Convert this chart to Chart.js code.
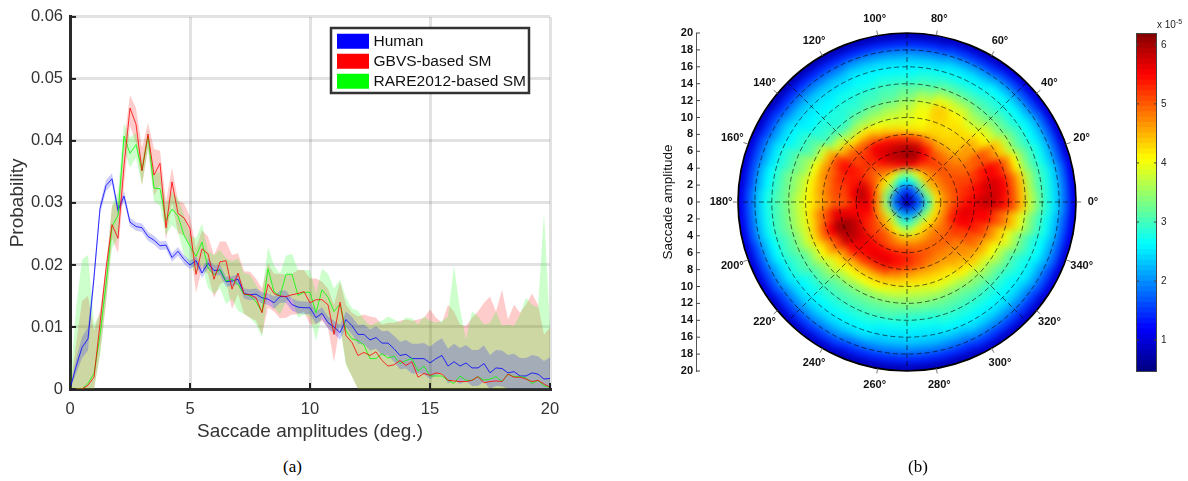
<!DOCTYPE html>
<html><head><meta charset="utf-8">
<script src="https://cdn.jsdelivr.net/npm/chart.js@4"></script>
<style>
html,body{margin:0;padding:0;background:#fff;width:1188px;height:481px;overflow:hidden}
canvas{position:absolute;display:block}
.t{position:absolute;color:#000;white-space:nowrap}
#heatClip{position:absolute;left:738px;top:33px;width:338px;height:338px;border-radius:50%;overflow:hidden;background:#0000b0}
#heat{left:-2px;top:-2px;filter:blur(3px)}
</style></head><body>
<canvas id="lines" width="600" height="443" style="left:0;top:0;width:600px;height:443px"></canvas>
<div id="heatClip"><canvas id="heat" width="342" height="342" style="width:342px;height:342px"></canvas></div>
<canvas id="polar" width="460" height="460" style="left:660px;top:0;width:460px;height:460px"></canvas>
<canvas id="bar" width="68" height="400" style="left:1120px;top:0;width:68px;height:400px"></canvas>
<div class="t" style="left:283px;top:457px;font:17px 'Liberation Serif'">(a)</div>
<div class="t" style="left:908px;top:457px;font:17px 'Liberation Serif'">(b)</div>
<div class="t" style="left:1157px;top:19px;font:10px 'Liberation Sans';color:#222">x 10<sup style="font-size:7px;vertical-align:4px;line-height:0">-5</sup></div>
<script>
const seriesNames=['Human','GBVS-based SM','RARE2012-based SM'];
const amplitudes=[0,.25,.5,.75,1,1.25,1.5,1.75,2,2.25,2.5,2.75,3,3.25,3.5,3.75,4,4.25,4.5,4.75,5,5.25,5.5,5.75,6,6.25,6.5,6.75,7,7.25,7.5,7.75,8,8.25,8.5,8.75,9,9.25,9.5,9.75,10,10.25,10.5,10.75,11,11.25,11.5,11.75,12,12.25,12.5,12.75,13,13.25,13.5,13.75,14,14.25,14.5,14.75,15,15.25,15.5,15.75,16,16.25,16.5,16.75,17,17.25,17.5,17.75,18,18.25,18.5,18.75,19,19.25,19.5,19.75,20];
const humanMean=[0,.0036,.0067,.0081,.018,.0291,.0328,.0339,.0288,.0311,.0269,.0262,.026,.0246,.024,.0231,.0232,.0212,.0222,.0209,.02,.0207,.0187,.0203,.0191,.0192,.0173,.0174,.0177,.0154,.0152,.0153,.0147,.0145,.0139,.0149,.0149,.0136,.0132,.0131,.0131,.0115,.0122,.0107,.01,.0091,.0112,.0102,.0088,.0088,.0079,.0083,.0074,.0074,.0065,.0054,.0056,.0049,.0049,.0049,.0042,.0049,.0054,.0037,.0044,.0037,.0042,.0034,.0034,.0041,.0026,.0034,.0033,.0026,.0028,.0021,.0021,.0026,.0024,.0016,.0017];
const humanUpper=[0,.0048,.0084,.01,.0192,.03,.0337,.0348,.0296,.0319,.0276,.0269,.0267,.0253,.0247,.0238,.0239,.0219,.0229,.0216,.0207,.0214,.0195,.0211,.0199,.02,.0181,.0182,.0185,.0162,.0161,.0162,.0156,.0154,.0149,.0159,.0159,.0146,.0142,.0141,.0141,.0125,.0132,.0117,.011,.0103,.0125,.0116,.0103,.0104,.0096,.0101,.0093,.0094,.0086,.0076,.0079,.0073,.0073,.0074,.0068,.0076,.0082,.0065,.0073,.0066,.0071,.0063,.0063,.007,.0055,.0063,.0062,.0055,.0057,.005,.005,.0055,.0053,.0045,.0051];
const humanLower=[0,.0024,.005,.0062,.0168,.0282,.0319,.033,.028,.0303,.0262,.0255,.0253,.0239,.0233,.0224,.0225,.0205,.0215,.0202,.0193,.02,.0179,.0195,.0183,.0184,.0165,.0166,.0169,.0146,.0143,.0144,.0138,.0136,.0129,.0139,.0139,.0126,.0122,.0121,.0121,.0105,.0112,.0097,.009,.0079,.0099,.0088,.0073,.0072,.0062,.0065,.0055,.0054,.0044,.0032,.0033,.0025,.0025,.0024,.0016,.0022,.0026,.0009,.0015,.0008,.0013,.0005,.0005,.0012,0,.0005,.0004,0,0,0,0,0,0,0,0];
const gbvsMean=[0,0,0,.0006,.0019,.0105,.0195,.0265,.0243,.036,.0453,.0427,.0352,.0411,.0345,.0364,.026,.0334,.0283,.0276,.0259,.0185,.0226,.0218,.0177,.0205,.0207,.0161,.0187,.0153,.0152,.0147,.0123,.0169,.0154,.015,.0149,.0152,.0154,.0157,.0139,.0144,.0144,.0136,.0088,.014,.0086,.0075,.0054,.0059,.0054,.006,.0046,.0037,.0039,.0046,.0038,.0044,.0019,.0025,.0022,.0026,.0024,.0014,.0013,.0012,.0012,.0014,.002,.001,.0012,.0013,.0012,.0024,.0019,.0019,.0016,.0012,.0014,.0008,.0003];
const gbvsUpper=[0,.0073,.0142,.015,.0094,.0126,.0195,.0296,.0302,.0397,.0474,.0453,.0389,.0429,.0387,.0384,.0302,.0357,.0304,.0299,.0278,.0227,.0256,.0246,.0216,.0238,.0238,.0216,.0219,.019,.0189,.0178,.0162,.0202,.0186,.0186,.0184,.0186,.0192,.0192,.0178,.0178,.0173,.0162,.0136,.0173,.0136,.0123,.0117,.012,.0117,.0115,.0104,.0107,.0107,.011,.0112,.011,.0112,.0115,.0128,.0115,.0107,.0136,.0125,.0104,.0101,.0115,.0125,.0139,.0149,.0125,.016,.0112,.0136,.0123,.0136,.0154,.0136,.0088,.0099];
const gbvsLower=[0,0,0,0,0,.0057,.0137,.0243,.0219,.0328,.0424,.0397,.0328,.0387,.0312,.0328,.024,.0302,.0251,.0248,.0232,.0155,.0195,.0185,.0147,.0169,.0174,.0129,.0153,.0121,.0115,.011,.0088,.0131,.0125,.0114,.0115,.012,.012,.0125,.0104,.0104,.011,.0099,.0043,.0104,.0041,.002,0,0,0,0,0,0,0,0,0,0,0,0,0,0,0,0,0,0,0,0,0,0,0,0,0,0,0,0,0,0,0,0,0];
const rareMean=[0,0,0,.0009,.0025,.0086,.0169,.0262,.028,.0408,.038,.0394,.0352,.0408,.0324,.0323,.0272,.029,.0279,.0248,.023,.0214,.0237,.0195,.0184,.0193,.0174,.0177,.0169,.0153,.015,.0141,.0124,.0194,.0157,.015,.0185,.0185,.0151,.0156,.0156,.0123,.016,.0148,.0125,.0137,.0094,.0081,.0078,.0071,.0049,.0049,.0057,.005,.0053,.0041,.0046,.0049,.0029,.0037,.0021,.0021,.0021,.0014,.0009,.0021,.0014,.0014,.002,.0014,.0016,.002,.0012,.0024,.002,.002,.0018,.0009,.0014,.0005,.0003];
const rareUpper=[0,.0131,.0209,.0216,.0105,.0121,.019,.0296,.0318,.0429,.0405,.0413,.0368,.0416,.0349,.0349,.0296,.0318,.0307,.028,.0248,.0243,.0267,.0222,.0216,.0224,.0211,.0206,.0211,.0187,.0184,.0168,.0152,.0229,.0199,.0186,.0215,.0218,.0192,.0192,.0192,.0154,.0194,.0186,.0162,.0176,.0147,.013,.0126,.0112,.0102,.0107,.011,.0117,.0112,.0107,.0115,.0114,.0104,.0117,.011,.0107,.011,.0117,.0199,.0128,.008,.0125,.0117,.0104,.0107,.0125,.0102,.0104,.0102,.012,.0147,.0136,.0131,.0284,.0099];
const rareLower=[0,0,0,0,0,.0052,.0142,.0227,.0243,.0387,.0357,.0373,.0328,.0389,.0302,.0296,.0248,.0264,.0254,.0216,.0201,.0185,.0201,.0163,.0153,.0163,.0137,.0145,.0126,.0121,.0115,.0104,.0084,.0157,.0131,.012,.0141,.0147,.0115,.012,.0117,.0078,.012,.0104,.0088,.0099,.0038,.002,0,0,0,0,0,0,0,0,0,0,0,0,0,0,0,0,0,0,0,0,0,0,0,0,0,0,0,0,0,0,0,0,0];
const probabilityTicks=[0,.01,.02,.03,.04,.05,.06];
const amplitudeTicks=[0,5,10,15,20];

/* density (x 1e-5): one row per amplitude ring 0-1 ... 19-20, one column per direction 0,10,...,350 deg */
const heatRows=[
[.8,.8,.8,.8,.8,.8,.8,.8,.8,.8,.8,.8,.8,.8,.8,.8,.8,.8,.8,.8,.8,.8,.8,.8,.8,.8,.8,.8,.8,.8,.8,.8,.8,.8,.8,.8],
[1.6,1.7,1.8,1.8,1.9,1.8,1.7,1.5,1.5,1.6,1.6,1.6,1.7,1.8,1.9,1.9,1.8,1.8,1.9,1.9,1.9,2,2,2.1,2.1,2.1,2.1,2.1,2.1,2,2,2,1.9,1.9,1.8,1.7],
[2.9,3.1,3.3,3.4,3.4,3.3,3.1,2.9,2.7,2.6,2.6,2.7,3,3.4,3.5,3.4,3.4,3.4,3.5,3.5,3.6,3.7,3.8,3.7,3.4,3.1,2.9,2.9,3,3.2,3.4,3.4,3.4,3.3,3.2,3],
[4.2,4.2,4.3,4.4,4.5,4.4,4.2,3.9,3.7,3.5,3.6,3.8,4.1,4.2,4.2,4.3,4.5,4.7,4.7,4.6,4.6,4.6,4.5,4.4,4.2,4,3.8,3.7,3.8,4,4.2,4.2,4.2,4.2,4.2,4.2],
[4.7,4.7,4.8,4.8,4.8,4.8,4.9,5.1,5.5,5.6,5.5,5.3,5,4.8,4.8,5,5.3,5.5,5.6,5.5,5.3,5.1,5,5,4.9,4.7,4.5,4.5,4.5,4.5,4.6,4.7,4.7,4.7,4.7,4.7],
[5,5,5,5,5,5.1,5.2,5.5,6,6,5.9,5.8,5.5,5.1,5,5.2,5.7,5.9,5.7,5.5,5.4,5.3,5.2,5.2,5.1,5,5,5,4.9,4.9,4.9,4.9,4.9,5,5.3,5.2],
[5.3,5.2,5.1,5,4.9,4.9,5,5.4,5.8,5.9,5.8,5.7,5.6,5.3,5.2,5.3,5.4,5.5,5.3,5.5,5.8,5.7,5.6,5.5,5.5,5.5,5.4,5.3,5.1,5,4.9,4.9,5,5.2,5.5,5.6],
[5.5,5.3,5.1,4.9,4.7,4.6,4.6,4.8,5.1,5.2,5.3,5.4,5.5,5.2,5.1,5.4,5.3,5.1,5,5.6,6,5.9,5.6,5.5,5.6,5.6,5.4,5.2,5,4.8,4.7,4.7,4.8,5.1,5.5,5.6],
[5.7,5.5,5.2,4.9,4.6,4.3,4.3,4.3,4.2,4.2,4.3,4.5,4.8,4.9,5,5.4,5.2,5.1,5,5.6,6,5.8,5.4,5.2,5.1,5.1,4.8,4.6,4.5,4.5,4.5,4.6,4.7,5,5.3,5.5],
[5.8,5.7,5.4,5,4.6,4.3,4.2,4.2,4,3.9,3.9,4,4.2,4.2,4.5,5.1,4.9,4.8,4.7,5.1,5.5,5.1,4.7,4.5,4.4,4.4,4.3,4.2,4.2,4.2,4.2,4.4,4.6,4.8,5.1,5.5],
[5.7,5.7,5.5,5,4.4,4.2,4.2,4.3,4,3.8,3.7,3.6,3.6,3.5,3.8,4.5,4.6,4.5,4.4,4.7,4.9,4.6,4.2,4,4,4,3.9,3.8,3.8,3.9,3.9,4.1,4.3,4.4,4.7,5.1],
[5.4,5.5,5.3,4.7,4.1,3.9,4.1,4.3,3.9,3.6,3.4,3.3,3.2,3,3.2,3.8,4,4.1,4.1,4.2,4.3,4.1,3.8,3.6,3.5,3.5,3.5,3.5,3.5,3.5,3.5,3.6,3.8,4,4.3,4.8],
[5,5,4.8,4.3,3.8,3.6,3.8,3.9,3.6,3.3,3.1,3,2.9,2.8,2.9,3.2,3.5,3.7,3.8,3.8,3.8,3.6,3.4,3.2,3.2,3.2,3.2,3.2,3.2,3.2,3.2,3.3,3.4,3.6,3.9,4.4],
[4.4,4.4,4.1,3.7,3.4,3.3,3.4,3.4,3.2,3.1,3,2.9,2.8,2.8,2.8,3,3.3,3.4,3.5,3.5,3.4,3.2,3.1,3,3,3,3,2.9,2.9,3,3,3,3.1,3.2,3.5,3.9],
[3.7,3.6,3.4,3.2,3.1,3,3,3,2.9,2.8,2.8,2.7,2.7,2.6,2.6,2.8,3,3.2,3.2,3.2,3.1,3,2.8,2.8,2.8,2.8,2.7,2.7,2.7,2.8,2.8,2.8,2.8,2.9,3.1,3.4],
[3.2,3.1,3,2.9,2.8,2.8,2.7,2.7,2.7,2.6,2.6,2.6,2.5,2.5,2.5,2.6,2.8,2.9,3,3,2.9,2.8,2.6,2.6,2.6,2.6,2.5,2.5,2.5,2.6,2.6,2.6,2.6,2.7,2.8,3],
[2.8,2.8,2.7,2.6,2.6,2.6,2.5,2.5,2.4,2.4,2.4,2.4,2.3,2.3,2.3,2.4,2.5,2.6,2.7,2.7,2.6,2.5,2.4,2.4,2.4,2.4,2.3,2.3,2.3,2.3,2.4,2.4,2.4,2.5,2.6,2.7],
[2.4,2.4,2.3,2.3,2.2,2.2,2.1,2.1,2,2,2,2,1.9,1.9,1.9,2,2.1,2.2,2.3,2.3,2.2,2.1,2,2,2,1.9,1.9,1.9,1.9,1.9,2,2,2,2.1,2.2,2.3],
[1.8,1.8,1.7,1.7,1.6,1.6,1.5,1.5,1.4,1.4,1.4,1.4,1.4,1.4,1.4,1.5,1.6,1.6,1.7,1.7,1.6,1.6,1.5,1.5,1.5,1.4,1.4,1.4,1.4,1.4,1.5,1.5,1.5,1.6,1.7,1.7],
[1.1,1.1,1,1,1,1,.9,.9,.8,.8,.8,.8,.8,.8,.8,.9,1,1,1.1,1.1,1,1,.9,.9,.9,.8,.8,.8,.8,.8,.9,.9,.9,1,1,1.1]
];
const directionLabels=['0°','20°','40°','60°','80°','100°','120°','140°','160°','180°','200°','220°','240°','260°','280°','300°','320°','340°'];
const directions=[0,20,40,60,80,100,120,140,160,180,200,220,240,260,280,300,320,340];
const ringValues=[2,4,6,8,10,12,14,16,18,20];
const gridDiameters=[0,45,90,135];
const colorTicks=[1,2,3,4,5,6];
const colorMin=.46,colorMax=6.2;

Chart.defaults.font.family="'Liberation Sans'";
Chart.defaults.animation=false;
Chart.defaults.devicePixelRatio=1;
Chart.defaults.responsive=false;
Chart.defaults.plugins.tooltip.enabled=false;
Chart.defaults.events=[];

function jet(v){
  const t=Math.min(1,Math.max(0,(v-colorMin)/(colorMax-colorMin)));
  const c=x=>Math.round(255*Math.min(1,Math.max(0,1.5-Math.abs(4*t-x))));
  return `rgb(${c(3)},${c(2)},${c(1)})`;
}
const pts=a=>a.map((y,i)=>({x:amplitudes[i],y}));
function band(up,lo,rgb,ord){
  return [
    {data:pts(up),borderWidth:0,pointRadius:0,fill:'+1',backgroundColor:`rgba(${rgb},.2)`,tension:0,order:ord},
    {data:pts(lo),borderWidth:0,pointRadius:0,fill:false,tension:0,order:ord}
  ];
}
function mean(label,a,col,ord){
  return {label,data:pts(a),borderColor:col,backgroundColor:col,borderWidth:.8,pointRadius:0,fill:false,tension:0,order:ord};
}
const legendBox={left:331,top:28,right:529,bottom:93};
const linesPlugin={
  id:'linesExtra',
  afterLayout(c){
    const l=c.legend;
    l.left=335.75;l.right=legendBox.right;l.top=legendBox.top+1;l.bottom=legendBox.bottom+30;
    l.width=l.right-l.left;l.height=l.bottom-l.top;
  },
  afterDraw(c){
    const g=c.ctx,x=c.scales.x,y=c.scales.y,a=c.chartArea;
    g.save();
    g.strokeStyle='#222';g.lineWidth=2;
    amplitudeTicks.forEach(v=>{const p=x.getPixelForValue(v);g.beginPath();g.moveTo(p,a.bottom);g.lineTo(p,a.bottom-6);g.stroke();});
    probabilityTicks.forEach(v=>{const p=y.getPixelForValue(v);g.beginPath();g.moveTo(a.left,p);g.lineTo(a.left+6,p);g.stroke();});
    g.fillStyle='#fff';g.strokeStyle='#333';g.lineWidth=2.5;
    g.fillRect(legendBox.left,legendBox.top,legendBox.right-legendBox.left,legendBox.bottom-legendBox.top);
    g.strokeRect(legendBox.left,legendBox.top,legendBox.right-legendBox.left,legendBox.bottom-legendBox.top);
    g.restore();
    c.legend.draw();
  }
};
new Chart(document.getElementById('lines'),{
  type:'line',
  data:{datasets:[
    ...band(gbvsUpper,gbvsLower,'255,0,0',8),
    ...band(rareUpper,rareLower,'0,255,0',7),
    ...band(humanUpper,humanLower,'0,0,255',6),
    mean(seriesNames[0],humanMean,'#0000ff',3),
    mean(seriesNames[1],gbvsMean,'#ff0000',1),
    mean(seriesNames[2],rareMean,'#00ff00',2)
  ]},
  options:{
    layout:{padding:{top:13,right:50,left:6,bottom:0}},
    scales:{
      x:{type:'linear',min:0,max:20,
        afterBuildTicks(s){s.ticks=amplitudeTicks.map(value=>({value}));},
        afterFit(s){s.height=54;},
        grid:{color:'rgba(0,0,0,.115)',lineWidth:3,drawTicks:false},
        border:{color:'#2a2a2a',width:3},
        ticks:{color:'#333',font:{size:16.5},padding:11,maxRotation:0},
        title:{display:true,text:'Saccade amplitudes (deg.)',color:'#333',font:{size:19},padding:{top:0,bottom:0}}},
      y:{min:0,max:.06,
        afterBuildTicks(s){s.ticks=probabilityTicks.map(value=>({value}));},
        afterFit(s){s.width=64;},
        grid:{color:'rgba(0,0,0,.115)',lineWidth:3,drawTicks:false},
        border:{color:'#2a2a2a',width:3},
        ticks:{color:'#333',font:{size:16.5},padding:7,callback:v=>v===0?'0':String(+v.toFixed(2))},
        title:{display:true,text:'Probability',color:'#333',font:{size:19},padding:{top:0,bottom:2}}}
    },
    plugins:{legend:{position:'chartArea',align:'start',
      labels:{boxWidth:25.5,boxHeight:8.5,padding:4.5,color:'#111',font:{size:15.5},filter:i=>i.text,
        generateLabels:c=>Chart.defaults.plugins.legend.labels.generateLabels(c).map(i=>({...i,lineWidth:6.5})),
        sort:(a,b)=>seriesNames.indexOf(a.text)-seriesNames.indexOf(b.text)}}}
  },
  plugins:[linesPlugin]
});

/* polar heat map: one ring per amplitude band, one slice per direction */
const nDir=heatRows[0].length;
new Chart(document.getElementById('heat'),{
  type:'doughnut',
  data:{labels:heatRows[0].map((_,j)=>j*10),
    datasets:heatRows.slice().reverse().map(row=>({
      data:row.map(()=>1),
      backgroundColor:row.map((_,j)=>jet(row[(nDir-j)%nDir])),
      borderColor:row.map((_,j)=>jet(row[(nDir-j)%nDir])),
      borderWidth:.6
    }))},
  options:{cutout:0,rotation:85,layout:{padding:0},plugins:{legend:{display:false}}}
});

const polarPlugin={
  id:'polarOverlay',
  afterDraw(c){
    const g=c.ctx,x=c.scales.x,y=c.scales.y;
    const cx=x.getPixelForValue(0),cy=y.getPixelForValue(0),u=x.getPixelForValue(1)-cx;
    const P=(r,d)=>[x.getPixelForValue(r*Math.cos(d*Math.PI/180)),y.getPixelForValue(r*Math.sin(d*Math.PI/180))];
    g.save();
    g.strokeStyle='rgba(0,0,0,.6)';g.lineWidth=1;g.setLineDash([5,3]);
    ringValues.slice(0,-1).forEach(r=>{g.beginPath();g.arc(cx,cy,r*u,0,2*Math.PI);g.stroke();});
    gridDiameters.forEach(d=>{const a=P(20,d),b=P(-20,d);g.beginPath();g.moveTo(a[0],a[1]);g.lineTo(b[0],b[1]);g.stroke();});
    g.setLineDash([]);
    g.strokeStyle='#000';g.lineWidth=1.7;g.beginPath();g.arc(cx,cy,20*u,0,2*Math.PI);g.stroke();
    g.lineWidth=1;g.strokeStyle='#777';
    directions.forEach(d=>{const a=P(20,d),b=P(20.6,d);g.beginPath();g.moveTo(a[0],a[1]);g.lineTo(b[0],b[1]);g.stroke();});
    g.fillStyle='#111';g.font="bold 11px 'Liberation Sans'";g.textAlign='center';g.textBaseline='middle';
    directions.forEach((d,i)=>{const a=P(22,d);g.fillText(directionLabels[i],a[0],a[1]);});
    g.strokeStyle='#444';
    y.ticks.forEach(t=>{const p=y.getPixelForValue(t.value);g.beginPath();g.moveTo(c.chartArea.left,p);g.lineTo(c.chartArea.left+4,p);g.stroke();});
    g.restore();
  }
};
new Chart(document.getElementById('polar'),{
  type:'scatter',
  data:{datasets:[{data:[]}]},
  options:{
    layout:{padding:{top:33,right:44,left:0,bottom:89}},
    scales:{
      x:{type:'linear',display:false,min:-24.97,max:20},
      y:{type:'linear',min:-20,max:20,
        afterFit(s){s.width=36;},
        grid:{display:false,drawTicks:false},
        border:{color:'#555',width:1},
        ticks:{stepSize:2,autoSkip:false,color:'#111',padding:3,font:{size:11,weight:'bold'},callback:v=>String(Math.abs(v))},
        title:{display:true,text:'Saccade amplitude',color:'#111',font:{size:13.5},padding:{top:0,bottom:1}}}
    },
    plugins:{legend:{display:false}}
  },
  plugins:[polarPlugin]
});

/* colour bar */
const barLevels=[];
for(let i=0;i<64;i++){barLevels.push([colorMin+(colorMax-colorMin)*i/64,colorMin+(colorMax-colorMin)*(i+1.15)/64]);}
new Chart(document.getElementById('bar'),{
  type:'bar',
  data:{labels:['c'],datasets:barLevels.map(b=>({data:[[b[0],Math.min(b[1],colorMax)]],backgroundColor:jet(b[0]+(colorMax-colorMin)/128),borderWidth:0,barPercentage:1,categoryPercentage:1,grouped:false}))},
  options:{
    layout:{padding:{top:33,left:16,right:0,bottom:28}},
    scales:{
      x:{display:false},
      y:{position:'right',min:colorMin,max:colorMax,
        afterBuildTicks(s){s.ticks=colorTicks.map(value=>({value}));},
        afterFit(s){s.width=31;},
        grid:{display:false,drawTicks:false},border:{display:false},
        ticks:{color:'#222',padding:4,font:{size:10}}}
    },
    plugins:{legend:{display:false}}
  },
  plugins:[{id:'barFrame',afterDraw(c){
    const g=c.ctx,a=c.chartArea,y=c.scales.y;
    g.save();g.strokeStyle='#444';g.lineWidth=1;
    g.strokeRect(a.left+.5,a.top+.5,a.width-1,a.height-1);
    y.ticks.forEach(t=>{const p=y.getPixelForValue(t.value);g.beginPath();g.moveTo(a.left,p);g.lineTo(a.left+3,p);g.moveTo(a.right,p);g.lineTo(a.right-3,p);g.stroke();});
    g.restore();
  }}]
});
</script>
</body></html>
